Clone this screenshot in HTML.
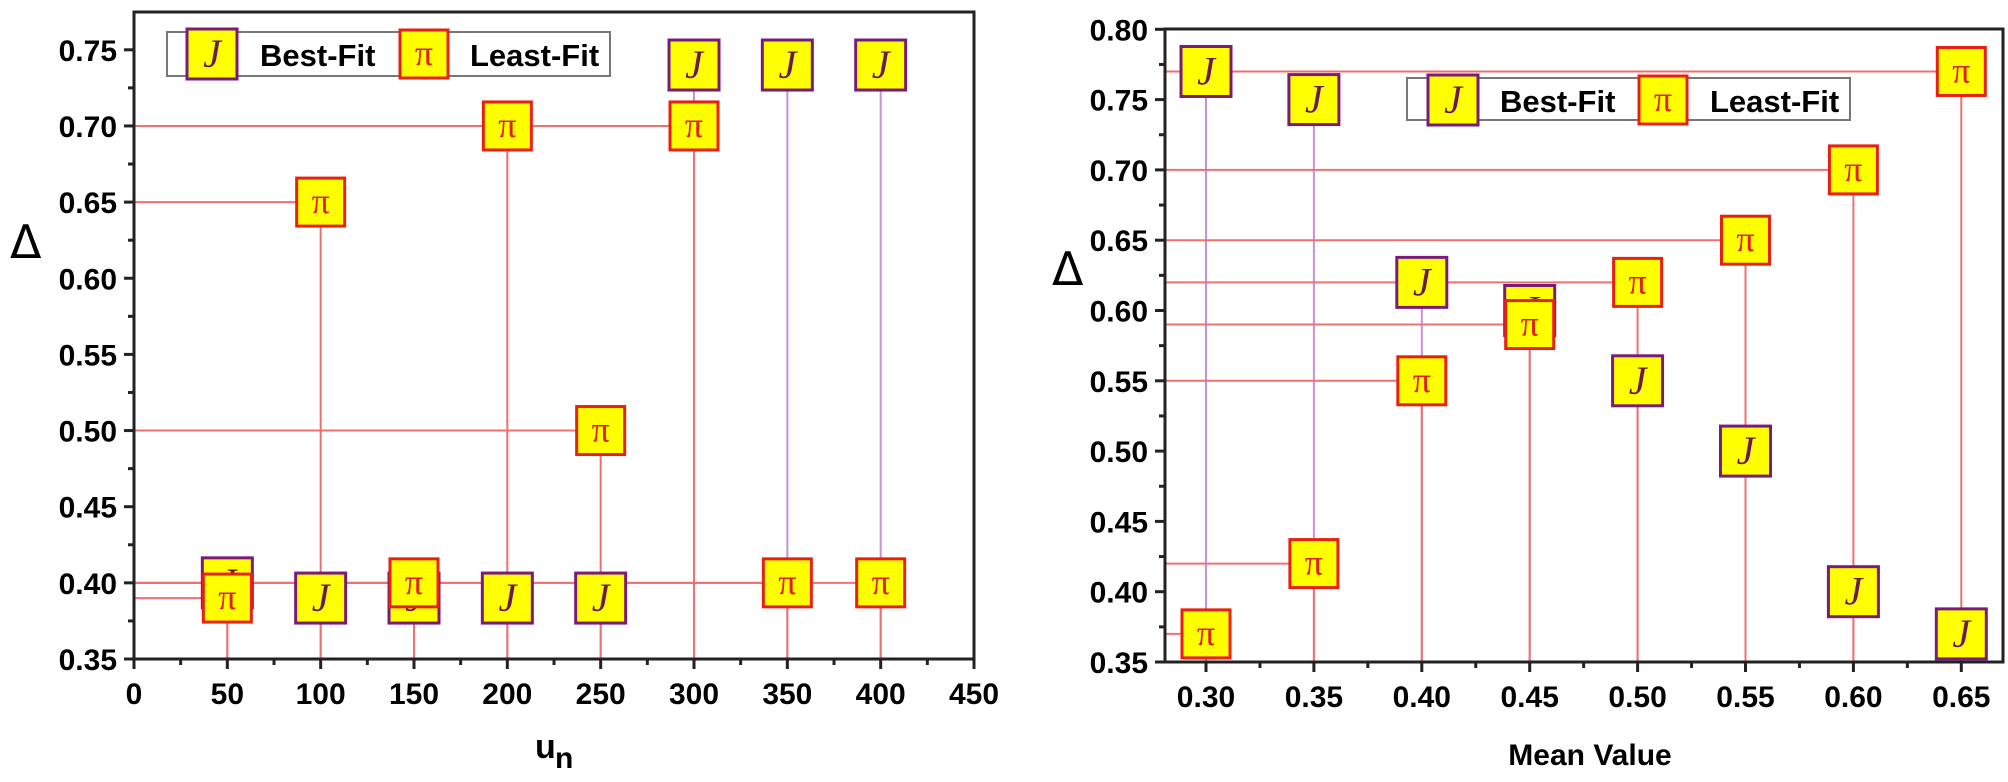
<!DOCTYPE html>
<html><head><meta charset="utf-8"><style>
html,body{margin:0;padding:0;background:#fff;}
svg{display:block;}
</style></head><body>
<svg id="s" width="2008" height="782" xmlns="http://www.w3.org/2000/svg" font-family="Liberation Sans, Arial, sans-serif"></svg>
<script>
const s=document.getElementById('s');let h='';
const RED='#f07070',PUR='#c890d8';
const SERIF='style="font-family:\'Liberation Serif\',serif"';
function jm(x,y){return `<rect x="${x-25}" y="${y-25}" width="50" height="50" fill="#ffff00" stroke="#7a1a7a" stroke-width="3"/><text x="${x}" y="${y+13}" ${SERIF} font-style="italic" font-size="40" fill="#6a1a4a" text-anchor="middle">J</text>`;}
function pm(x,y){return `<rect x="${x-24}" y="${y-24}" width="48" height="48" fill="#ffff00" stroke="#e82010" stroke-width="3"/><text x="${x}" y="${y+11}" ${SERIF} font-size="36" fill="#e02000" text-anchor="middle">π</text>`;}
function chart(o){
 const X=o.X,Y=o.Y;
 let g='';
 o.J.forEach(([a,b])=>{g+=`<line x1="${X(a)}" y1="${Y(b)}" x2="${X(a)}" y2="${o.bot}" stroke="${PUR}" stroke-width="2"/>`;});
 o.P.forEach(([a,b])=>{g+=`<line x1="${o.left}" y1="${Y(b)}" x2="${X(a)}" y2="${Y(b)}" stroke="${RED}" stroke-width="2"/><line x1="${X(a)}" y1="${Y(b)}" x2="${X(a)}" y2="${o.bot}" stroke="${RED}" stroke-width="2"/>`;});
 g+=`<rect x="${o.left}" y="${o.top}" width="${o.right-o.left}" height="${o.bot-o.top}" fill="none" stroke="#222" stroke-width="3"/>`;
 o.yt.forEach((v,i)=>{const y=Y(v);g+=`<line x1="${o.left-10}" y1="${y}" x2="${o.left}" y2="${y}" stroke="#222" stroke-width="3"/><text x="${o.left-17}" y="${y+11}" font-size="30" font-weight="bold" text-anchor="end">${v.toFixed(2)}</text>`;
  if(i<o.yt.length-1){const ym=Y(v+o.ys/2);g+=`<line x1="${o.left-6}" y1="${ym}" x2="${o.left}" y2="${ym}" stroke="#222" stroke-width="3"/>`;}});
 o.xt.forEach((v,i)=>{const x=X(v);g+=`<line x1="${x}" y1="${o.bot}" x2="${x}" y2="${o.bot+10}" stroke="#222" stroke-width="3"/><text x="${x}" y="${o.bot+45}" font-size="30" font-weight="bold" text-anchor="middle">${o.xf(v)}</text>`;});
 o.xm.forEach(v=>{const x=X(v);g+=`<line x1="${x}" y1="${o.bot}" x2="${x}" y2="${o.bot+6}" stroke="#222" stroke-width="3"/>`;});
 o.J.forEach(([a,b])=>g+=jm(X(a),Y(b)));
 o.P.forEach(([a,b])=>g+=pm(X(a),Y(b)));
 return g;
}
const LX=v=>134+v*1.8667, LY=v=>659-(v-0.35)*1523;
h+=chart({X:LX,Y:LY,left:134,right:974,top:12,bot:659,
 J:[[50,0.40],[100,0.39],[150,0.39],[200,0.39],[250,0.39],[300,0.74],[350,0.74],[400,0.74]],
 P:[[50,0.39],[100,0.65],[150,0.40],[200,0.70],[250,0.50],[300,0.70],[350,0.40],[400,0.40]],
 yt:[0.35,0.40,0.45,0.50,0.55,0.60,0.65,0.70,0.75],ys:0.05,
 xt:[0,50,100,150,200,250,300,350,400,450],xf:v=>v,
 xm:[25,75,125,175,225,275,325,375,425]});
h+=`<rect x="167" y="32" width="443" height="44" fill="#fff" stroke="#777" stroke-width="2"/>`+jm(212,54)+`<text x="260" y="66" font-size="31" font-weight="bold">Best-Fit</text>`+pm(424,54)+`<text x="470" y="66" font-size="31" font-weight="bold">Least-Fit</text>`;
h+=`<text x="10" y="258" font-size="46" style="font-family:'DejaVu Sans',sans-serif">Δ</text>`;
h+=`<text x="535" y="758" font-size="34" font-weight="bold">u</text><text x="555" y="768" font-size="30" font-weight="bold">n</text>`;
const RX=v=>1206+(v-0.30)*2158, RY=v=>662-(v-0.35)*1406;
h+=chart({X:RX,Y:RY,left:1165,right:2003,top:29,bot:662,
 J:[[0.30,0.77],[0.35,0.75],[0.40,0.62],[0.45,0.60],[0.50,0.55],[0.55,0.50],[0.60,0.40],[0.65,0.37]],
 P:[[0.30,0.37],[0.35,0.42],[0.40,0.55],[0.45,0.59],[0.50,0.62],[0.55,0.65],[0.60,0.70],[0.65,0.77]],
 yt:[0.35,0.40,0.45,0.50,0.55,0.60,0.65,0.70,0.75,0.80],ys:0.05,
 xt:[0.30,0.35,0.40,0.45,0.50,0.55,0.60,0.65],xf:v=>v.toFixed(2),
 xm:[0.325,0.375,0.425,0.475,0.525,0.575,0.625]});
h+=`<rect x="1407" y="78" width="443" height="42" fill="#fff" stroke="#777" stroke-width="2"/>`+jm(1453,100)+`<text x="1500" y="112" font-size="31" font-weight="bold">Best-Fit</text>`+pm(1663,100)+`<text x="1710" y="112" font-size="31" font-weight="bold">Least-Fit</text>`;
h+=`<text x="1052" y="285" font-size="46" style="font-family:'DejaVu Sans',sans-serif">Δ</text>`;
h+=`<text x="1590" y="765" font-size="30" font-weight="bold" text-anchor="middle">Mean Value</text>`;
s.innerHTML=h;
</script>
</body></html>
